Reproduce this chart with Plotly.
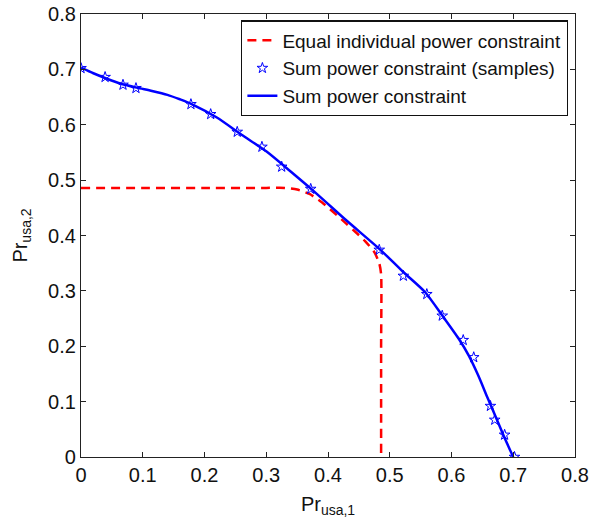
import plotly.graph_objects as go

# Equal individual power constraint (red dashed)
eq_x = [0.0, 0.10, 0.20, 0.30, 0.33, 0.35, 0.37, 0.39, 0.41, 0.43, 0.441, 0.46, 0.475, 0.483, 0.486, 0.486, 0.486]
eq_y = [0.486, 0.486, 0.486, 0.486, 0.486, 0.483, 0.475, 0.46, 0.441, 0.421, 0.41, 0.39, 0.37, 0.35, 0.33, 0.20, 0.0]

# Sum power constraint samples (stars)
smp_x = [0.0, 0.039, 0.068, 0.089, 0.178, 0.210, 0.253, 0.293, 0.325, 0.372,
         0.483, 0.522, 0.560, 0.585, 0.619, 0.636, 0.663, 0.670, 0.686, 0.702]
smp_y = [0.702, 0.686, 0.672, 0.666, 0.637, 0.619, 0.587, 0.560, 0.524, 0.484,
         0.374, 0.327, 0.294, 0.255, 0.211, 0.180, 0.092, 0.067, 0.040, 0.0]

# Sum power constraint curve (blue solid)
sum_x = [0.0, 0.02, 0.04, 0.065, 0.09, 0.115, 0.14, 0.16, 0.18, 0.22, 0.26, 0.30, 0.34, 0.38,
         0.43, 0.484, 0.521, 0.557, 0.586, 0.612, 0.628, 0.643, 0.658, 0.671, 0.685, 0.700]
sum_y = [0.703, 0.693, 0.684, 0.674, 0.667, 0.661, 0.654, 0.646, 0.637, 0.613, 0.582, 0.552, 0.515, 0.477,
         0.427, 0.375, 0.335, 0.298, 0.254, 0.213, 0.183, 0.148, 0.108, 0.074, 0.037, 0.0]

ticks = [0, 0.1, 0.2, 0.3, 0.4, 0.5, 0.6, 0.7, 0.8]
tick_text = ["0", "0.1", "0.2", "0.3", "0.4", "0.5", "0.6", "0.7", "0.8"]

FONT = "Liberation Sans, Arial, Helvetica"

fig = go.Figure()
fig.add_trace(go.Scatter(x=eq_x, y=eq_y, mode="lines", name="Equal individual power constraint",
                         line=dict(color="#ff0000", width=2.5, dash="9px,6px", shape="spline", smoothing=0.6)))
fig.add_trace(go.Scatter(x=smp_x, y=smp_y, mode="markers", name="Sum power constraint (samples)",
                         marker=dict(symbol="star-open", size=8, color="#0000ff", line=dict(width=1, color="#0000ff"))))
fig.add_trace(go.Scatter(x=sum_x, y=sum_y, mode="lines", name="Sum power constraint",
                         line=dict(color="#0000ff", width=2.5, shape="spline", smoothing=0.7)))

axis_common = dict(
    range=[0, 0.8], tickvals=ticks, ticktext=tick_text, showgrid=False, zeroline=False,
    showline=True, linecolor="#222222", linewidth=1.3, mirror="ticks", ticks="inside",
    ticklen=5, tickcolor="#222222", automargin=False, ticklabeloverflow="allow",
    tickfont=dict(family=FONT, size=20, color="#111111"),
)

fig.update_layout(
    width=599, height=518,
    margin=dict(l=81, r=24, t=14, b=61),
    paper_bgcolor="white", plot_bgcolor="white",
    font=dict(family=FONT, size=20, color="#111111"),
    xaxis=dict(**axis_common, title=dict(text="Pr<sub>usa,1</sub>", font=dict(size=20))),
    yaxis=dict(**axis_common, title=dict(text="Pr<sub>usa,2</sub>", font=dict(size=20))),
    legend=dict(x=0.986, y=0.986, xanchor="right", yanchor="top", bgcolor="white",
                bordercolor="#111111", borderwidth=1.3, font=dict(family=FONT, size=19),
                tracegroupgap=0, itemwidth=30),
    showlegend=True,
)

fig.write_html("out.html", config={"displayModeBar": False},
               post_script="document.body.style.margin='0';")
